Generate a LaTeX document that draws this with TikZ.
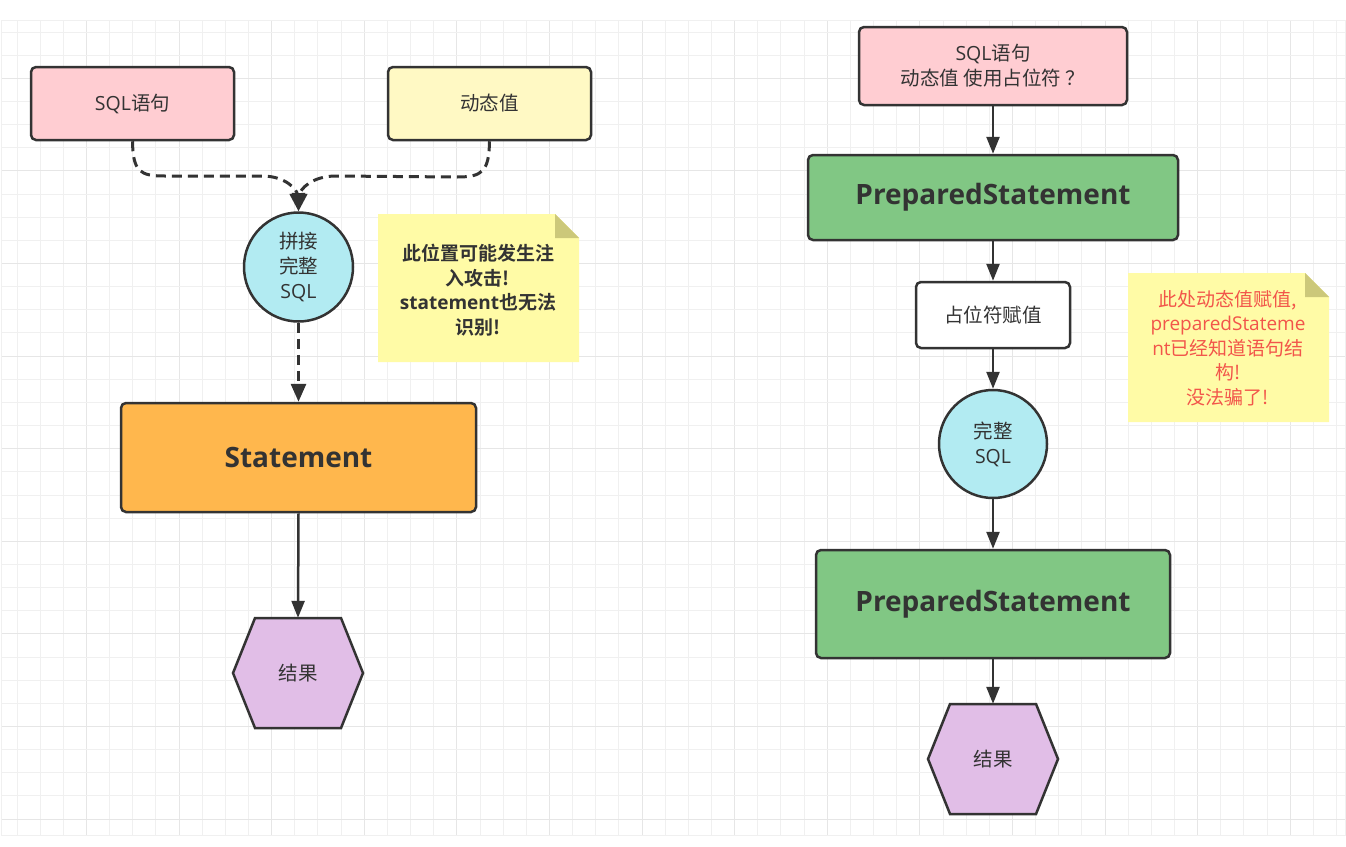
\documentclass[tikz,border=0pt]{standalone}
\usepackage{fontspec}
\setmainfont{Open Sans}
\newfontfamily\cjk{Noto Sans CJK SC}[BoldFont={Noto Sans CJK SC Bold}]
\usetikzlibrary{arrows.meta}
\definecolor{ink}{HTML}{333333}
\definecolor{pinkf}{HTML}{FFCDD2}
\definecolor{yellowf}{HTML}{FFF9C4}
\definecolor{cyanf}{HTML}{B2EBF2}
\definecolor{orangef}{HTML}{FFB74D}
\definecolor{greenf}{HTML}{81C784}
\definecolor{purplef}{HTML}{E1BEE7}
\definecolor{notef}{HTML}{FFFBA6}
\definecolor{foldf}{HTML}{CCC87A}
\definecolor{redt}{HTML}{F2554A}
\definecolor{gridminor}{HTML}{F0F0F0}
\definecolor{gridmajor}{HTML}{E6E6E6}
\newcommand\hexat[2]{%
  \draw[hexa] (#1-65,#2) -- (#1-43,#2-55) -- (#1+43,#2-55) -- (#1+65,#2) -- (#1+43,#2+55) -- (#1-43,#2+55) -- cycle;}
\newcommand\notepoly[4]{% x1 y1 x2 y2
  \fill[notef] (#1,#2) -- (#3-24,#2) -- (#3,#2+24) -- (#3,#4) -- (#1,#4) -- cycle;
  \fill[foldf] (#3-24,#2) -- (#3-24,#2+24) -- (#3,#2+24) -- cycle;}
\begin{document}
\begin{tikzpicture}[x=1pt,y=-1pt,
  box/.style={draw=ink, line width=2.5pt, rounded corners=5pt, text=ink, align=center, inner sep=0pt,
     font=\fontsize{19.5}{25}\selectfont},
  circ/.style={circle, draw=ink, line width=2.5pt, fill=cyanf, text=ink, align=center, inner sep=0pt,
     font=\fontsize{19.5}{25}\selectfont},
  big/.style={font=\bfseries\fontsize{28}{34}\selectfont},
  hexa/.style={draw=ink, line width=2.5pt, fill=purplef, line join=miter},
  hexnode/.style={minimum width=130pt, minimum height=110pt, inner sep=0pt, text=ink,
     font=\fontsize{19.5}{25}\selectfont},
  notetext/.style={align=center, inner sep=0pt, font=\fontsize{19}{24.5}\selectfont},
  arr/.style={draw=ink, line width=2.5pt, -{Triangle[length=17pt,width=13pt]}},
  darr/.style={draw=ink, line width=3pt, dash pattern=on 10pt off 6pt, -{Triangle[length=18pt,width=15pt]}},
  gmin/.style={draw=gridminor, line width=1pt},
  gmaj/.style={draw=gridmajor, line width=1.1pt}]
\useasboundingbox (0,0) rectangle (1346,846);
\fill[white] (0,0) rectangle (1346,846);
% grid
\foreach \k in {0,...,57}{
  \pgfmathsetmacro\xx{17+23.15*\k}
  \pgfmathtruncatemacro\m{mod(\k,4)}
  \ifnum\m=3 \draw[gmaj] (\xx,20) -- (\xx,835); \else \draw[gmin] (\xx,20) -- (\xx,835); \fi
}
\foreach \k in {0,...,34}{
  \pgfmathsetmacro\yy{32+23.15*\k}
  \pgfmathtruncatemacro\m{mod(\k,4)}
  \ifnum\m=2 \draw[gmaj] (1,\yy) -- (1345,\yy); \else \draw[gmin] (1,\yy) -- (1345,\yy); \fi
}
\draw[gmin] (1,20) rectangle (1345,835);

% ---------- left ----------
\node[box, fill=pinkf, minimum width=203pt, minimum height=73pt] (sql) at (132.5,103.5) {SQL{\cjk 语句}};
\node[box, fill=yellowf, minimum width=203pt, minimum height=73pt] (dyn) at (489.5,103.5) {{\cjk 动态值}};
\node[circ, minimum size=109pt] (join) at (298.5,267) {{\cjk 拼接}\\{\cjk 完整}\\SQL};
\notepoly{378}{214}{579}{362}
\node[notetext, text=ink] (note1) at (478,290) {\cjk\bfseries 此位置可能发生注\\\cjk\bfseries 入攻击!\\{\rmfamily\bfseries statement}{\cjk\bfseries 也无法}\\\cjk\bfseries 识别!};
\node[box, big, fill=orangef, minimum width=355pt, minimum height=109pt] (stmt) at (298.5,457.5) {Statement};
\hexat{298}{673}
\node[hexnode] (res1) at (298,673) {{\cjk 结果}};

\draw[darr] (sql.south) .. controls (133,172) and (140,176) .. (165,176) -- (262,176) .. controls (286,176) and (297,190) .. (join.north);
\draw[darr] (dyn.south) .. controls (489,172) and (482,177) .. (457,177) -- (336,176) .. controls (311,176) and (300,190) .. (join.north);
\draw[darr] (join.south) -- (stmt.north);
\draw[arr] (stmt.south) -- (res1.north);

% ---------- right ----------
\node[box, fill=pinkf, minimum width=268pt, minimum height=78pt] (sqlr) at (993,66) {SQL{\cjk 语句}\\{\cjk 动态值 使用占位符 ？}};
\node[box, big, fill=greenf, minimum width=370pt, minimum height=85pt] (ps1) at (993,197.5) {PreparedStatement};
\node[box, fill=white, minimum width=154pt, minimum height=66pt] (assign) at (993,315) {{\cjk 占位符赋值}};
\node[circ, minimum size=108pt] (full) at (993,444) {{\cjk 完整}\\SQL};
\node[box, big, fill=greenf, minimum width=354pt, minimum height=108pt] (ps2) at (993,604) {PreparedStatement};
\hexat{993}{759}
\node[hexnode] (res2) at (993,759) {{\cjk 结果}};
\notepoly{1128}{273}{1329}{422}
\node[notetext, text=redt] (note2) at (1228,348) {{\cjk 此处动态值赋值,}\\preparedStateme\\nt{\cjk 已经知道语句结}\\{\cjk 构!}\\{\cjk 没法骗了!}};

\draw[arr] (sqlr.south) -- (ps1.north);
\draw[arr] (ps1.south) -- (assign.north);
\draw[arr] (assign.south) -- (full.north);
\draw[arr] (full.south) -- (ps2.north);
\draw[arr] (ps2.south) -- (res2.north);
\end{tikzpicture}
\end{document}
